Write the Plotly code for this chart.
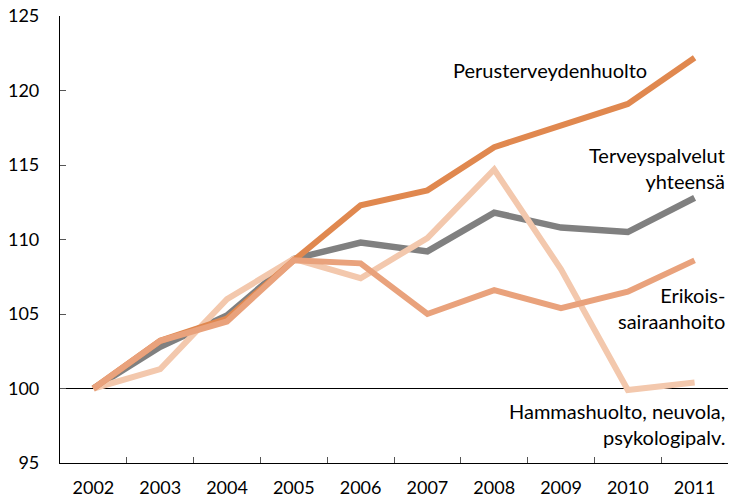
import plotly.graph_objects as go

years = ["2002", "2003", "2004", "2005", "2006", "2007", "2008", "2009", "2010", "2011"]
perus = [100, 103.2, 104.7, 108.6, 112.3, 113.3, 116.2, 117.6, 119.1, 122.2]
yhteensa = [100, 102.8, 104.9, 108.7, 109.8, 109.2, 111.8, 110.8, 110.5, 112.8]
erikois = [100, 103.2, 104.5, 108.6, 108.4, 105.0, 106.6, 105.4, 106.5, 108.6]
hammas = [100, 101.3, 106.0, 108.7, 107.4, 110.1, 114.7, 108.0, 99.9, 100.4]

c_perus = "#E0884F"
c_yht = "#808080"
c_erik = "#E9A27C"
c_hamm = "#F3C8AD"

font = "Lato, Open Sans, sans-serif"

fig = go.Figure()
for name, vals, col, w in [
    ("Terveyspalvelut yhteensä", yhteensa, c_yht, 6.5),
    ("Hammashuolto", hammas, c_hamm, 6),
    ("Perusterveydenhuolto", perus, c_perus, 6),
    ("Erikoissairaanhoito", erikois, c_erik, 6),
]:
    fig.add_trace(go.Scatter(x=years, y=vals, mode="lines", name=name,
                             line=dict(color=col, width=w), showlegend=False))

fig.add_shape(type="line", xref="paper", x0=0, x1=1, yref="y", y0=100, y1=100,
              line=dict(color="black", width=1.2), layer="below")

ann = [
    ("Perusterveydenhuolto", 0.881, 121.4),
    ("Terveyspalvelut<br>yhteensä", 0.998, 114.8),
    ("Erikois-<br>sairaanhoito", 0.998, 105.4),
    ("Hammashuolto, neuvola,<br>psykologipalv.", 0.998, 97.6),
]
for text, x, y in ann:
    fig.add_annotation(text=text, xref="paper", x=x, yref="y", y=y, showarrow=False,
                       xanchor="right", yanchor="middle", align="right",
                       font=dict(family=font, size=20, color="black"))

fig.update_xaxes(type="category", tickson="boundaries", ticks="inside", ticklen=6,
                 tickcolor="#555", showline=True, linecolor="black", linewidth=1.2,
                 showgrid=False, tickfont=dict(family=font, size=18, color="black"),
                 range=[-0.5, 9.5], ticklabelstandoff=8, automargin=False)
fig.update_yaxes(range=[95, 125], tickvals=[95, 100, 105, 110, 115, 120, 125],
                 ticks="inside", ticklen=6, tickcolor="#555", showline=True,
                 linecolor="black", linewidth=1.2, showgrid=False, zeroline=False,
                 tickfont=dict(family=font, size=18, color="black"),
                 ticklabelstandoff=16, automargin=False)

fig.update_layout(width=731, height=499, margin=dict(l=60, r=3, t=16, b=36),
                  plot_bgcolor="white", paper_bgcolor="white")

fig.write_html("out.html", config={"displayModeBar": False},
               post_script="document.body.style.margin='0';")
